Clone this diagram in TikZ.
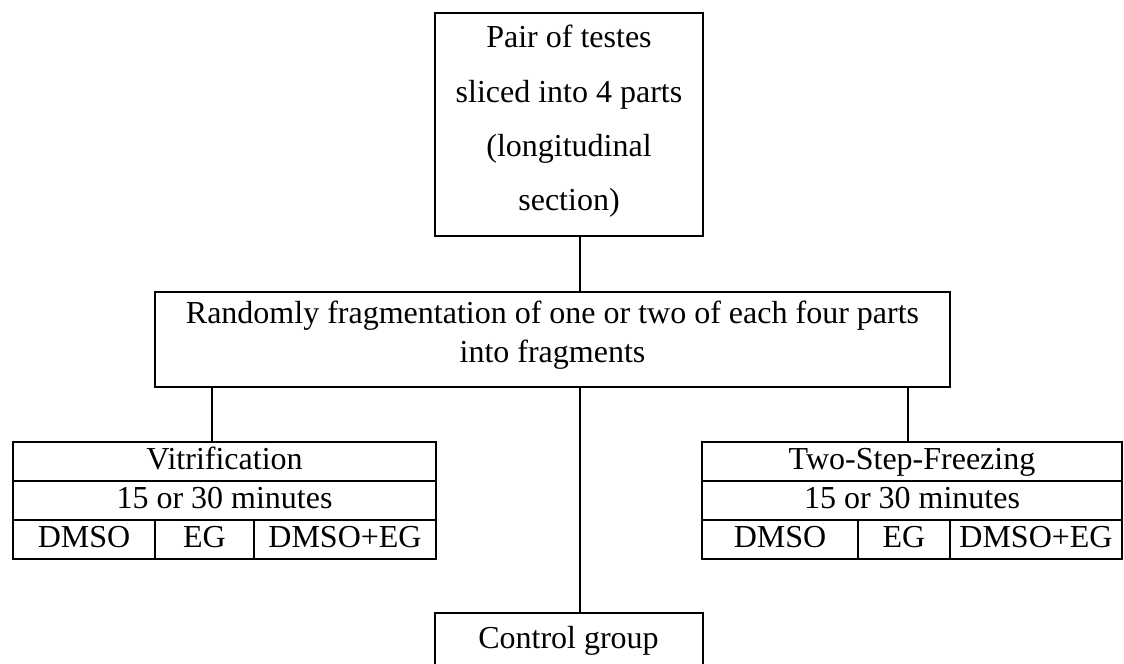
\documentclass[tikz,border=0pt]{standalone}
\usepackage{fontspec}
\setmainfont{Liberation Serif}
\usetikzlibrary{positioning}

\begin{document}
\begin{tikzpicture}[
    x=0.375pt, y=-0.375pt,
    font=\fontsize{12}{14.6}\selectfont,
    line width=0.75pt,
    box/.style={draw, rectangle, align=center, inner sep=0pt, outer sep=0pt},
    cell/.style={draw, rectangle, inner sep=0pt, outer sep=0pt, minimum height=14.625pt,
      text height=8.4pt, text depth=2.6pt},
    link/.style={draw, line width=0.75pt}
  ]
  \useasboundingbox (0,0) rectangle (1124,664);
  \clip (0,0) rectangle (1124,664);

  % Top box
  \node[box, minimum width=100.5pt, minimum height=83.6pt, text depth=4.8pt, font=\fontsize{12}{20.4}\selectfont] (testes) at (569,124.5) {Pair of testes\\sliced into 4 parts\\(longitudinal\\section)};

  % Middle box
  \node[box, minimum width=298.1pt, minimum height=35.6pt, text depth=5.6pt] (frag) at (552.5,339.5) {Randomly fragmentation of one or two of each four parts\\into fragments};

  % Left table - vitrification
  \node[cell, minimum width=158.625pt] (vit) at (224.5,461.5) {Vitrification};
  \node[cell, minimum width=158.625pt, below=0pt of vit] (vittime) {15 or 30 minutes};
  \node[cell, minimum width=53.25pt, below right=0pt and 0pt of vittime.south west] (vitd) {DMSO};
  \node[cell, minimum width=37.125pt, right=0pt of vitd] (vite) {EG};
  \node[cell, minimum width=68.25pt, right=0pt of vite] (vitde) {DMSO+EG};

  % Right table - two-step freezing
  \node[cell, minimum width=157.5pt] (tsf) at (912,461.5) {Two-Step-Freezing};
  \node[cell, minimum width=157.5pt, below=0pt of tsf] (tsftime) {15 or 30 minutes};
  \node[cell, minimum width=58.5pt, below right=0pt and 0pt of tsftime.south west] (tsfd) {DMSO};
  \node[cell, minimum width=34.5pt, right=0pt of tsfd] (tsfe) {EG};
  \node[cell, minimum width=64.5pt, right=0pt of tsfe] (tsfde) {DMSO+EG};

  % Control box - cut by the page edge
  \node[box, minimum width=100.5pt, minimum height=20.6pt, text height=8.4pt, text depth=2.6pt] (ctrl) at (568.5,640.5) {Control group};

  % Branch points
  \coordinate (trunk) at (580,0);
  \coordinate (lbranch) at (212,0);
  \coordinate (rbranch) at (908,0);

  % Connectors
  \draw[link] (testes.south -| trunk) -- (frag.north -| trunk);
  \draw[link] (frag.south -| trunk) -- (ctrl.north -| trunk);
  \draw[link] (frag.south -| lbranch) -- (vit.north -| lbranch);
  \draw[link] (frag.south -| rbranch) -- (tsf.north -| rbranch);

\end{tikzpicture}
\end{document}
